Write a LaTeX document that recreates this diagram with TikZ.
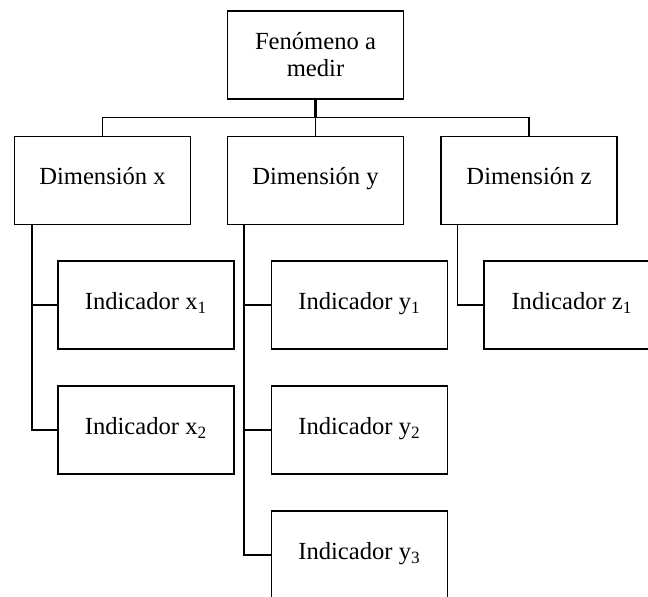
\documentclass[tikz,border=0pt]{standalone}
\usepackage{fontspec}
\setmainfont{Liberation Serif}
\usepackage{tikz}
\usetikzlibrary{positioning}

\tikzset{
  box/.style={draw, line width=0.7pt, minimum width=88pt, minimum height=44pt,
    inner sep=2pt, align=center, font=\fontsize{12.3}{13.5}\selectfont},
  leaf/.style={box, text height=0.7em, text depth=0.25em},
  link/.style={line width=0.7pt}
}

\begin{document}
\begin{tikzpicture}[x=0.5pt, y=-0.5pt]
  \useasboundingbox (0,0) rectangle (648,597);
  \clip (0,0) rectangle (648,597);
  % top level
  \node[box] (fen) at (315.5,55) {Fenómeno a\\medir};
  % dimensions
  \node[leaf] (dimx) at (102.5,180.5) {Dimensión x};
  \node[leaf] (dimy) at (315.5,180.5) {Dimensión y};
  \node[leaf] (dimz) at (529,180.5) {Dimensión z};
  % indicators
  \node[leaf] (indx1) at (146,305) {Indicador x\textsubscript{1}};
  \node[leaf] (indx2) at (146,430) {Indicador x\textsubscript{2}};
  \node[leaf] (indy1) at (359.5,305) {Indicador y\textsubscript{1}};
  \node[leaf] (indy2) at (359.5,430) {Indicador y\textsubscript{2}};
  \node[leaf] (indy3) at (359.5,555) {Indicador y\textsubscript{3}};
  \node[leaf] (indz1) at (572,305) {Indicador z\textsubscript{1}};
  % connectors
  \draw[line width=1.3pt] (fen.south) -- ++(0,18) coordinate (bus);
  \draw[link] (dimx.north) |- (bus) -| (dimz.north);
  \draw[link] (bus) -- (dimy.north);
  \draw[link] (dimx.south west) ++(18,0) coordinate (dx) |- (indx1.west) (dx) |- (indx2.west);
  \draw[link] (dimy.south west) ++(17,0) coordinate (dy) |- (indy1.west) (dy) |- (indy2.west)
    (dy) |- (indy3.west);
  \draw[link] (dimz.south west) ++(17,0) |- (indz1.west);
\end{tikzpicture}
\end{document}
